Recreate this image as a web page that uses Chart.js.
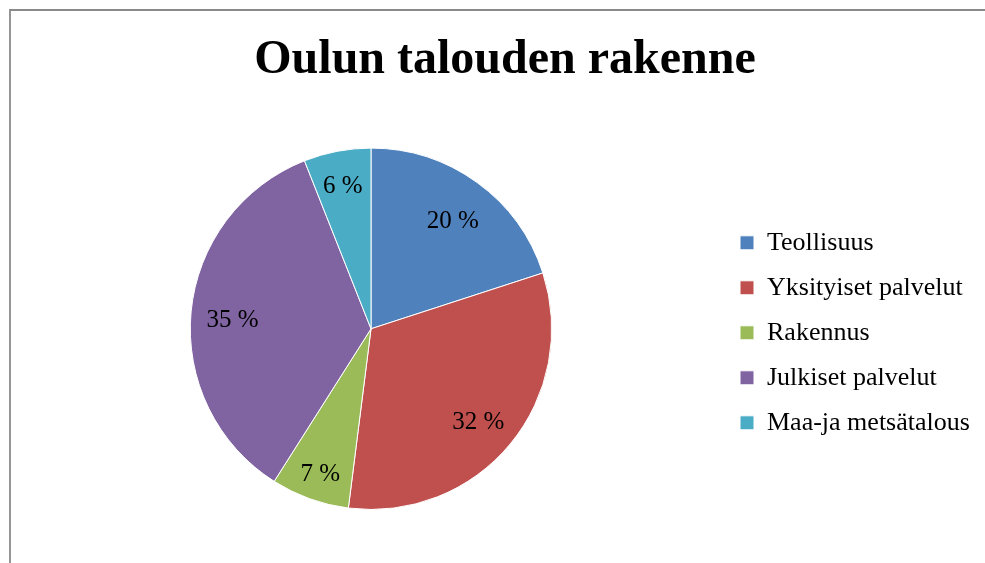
<!DOCTYPE html>
<html>
<head>
<meta charset="utf-8">
<title>Oulun talouden rakenne</title>
<script src="https://cdn.jsdelivr.net/npm/chart.js@4/dist/chart.umd.min.js"></script>
<style>
    html, body { margin: 0; padding: 0; background: #ffffff; overflow: hidden; }
    .page { position: relative; width: 985px; height: 563px; overflow: hidden; }
    .frame { position: absolute; left: 9px; top: 9px; width: 1000px; height: 600px;
             border-top: 2px solid #8a8a8a; border-left: 2px solid #959595; }
    #chart { position: absolute; left: 0; top: 0; }
</style>
</head>
<body>
<div class="page">
    <div class="frame"></div>
    <canvas id="chart" width="1010" height="563"></canvas>
</div>
<script>
var categories = ['Teollisuus', 'Yksityiset palvelut', 'Rakennus', 'Julkiset palvelut', 'Maa-ja metsätalous'];
var shares = [20, 32, 7, 35, 6];
var colors = ['#4F81BD', '#C0504D', '#9BBB59', '#8064A2', '#4BACC6'];
var chartTitle = 'Oulun talouden rakenne';

var serif = "'Liberation Serif', 'Times New Roman', serif";

// legend gets a fixed width and the pie's height, so pie, title and legend sit where Excel put them
var legendPlace = {
    id: 'legendPlace',
    beforeLayout: function (chart) {
        var legend = chart.legend;
        if (!legend || legend._patched) return;
        var fit = legend.fit;
        legend.fit = function () {
            fit.call(this);
            this.width = 268;
        };
        legend._patched = true;
    },
    afterLayout: function (chart) {
        var legend = chart.legend;
        if (!legend) return;
        legend.top = chart.chartArea.top + 4;
        legend.bottom = chart.chartArea.bottom + 4;
    }
};

// "20 %" style labels inside the slices
var sliceLabels = {
    id: 'sliceLabels',
    afterDatasetsDraw: function (chart) {
        var ctx = chart.ctx;
        var meta = chart.getDatasetMeta(0);
        var data = chart.data.datasets[0].data;
        ctx.save();
        ctx.font = '25px ' + serif;
        ctx.fillStyle = '#000000';
        ctx.textAlign = 'center';
        ctx.textBaseline = 'middle';
        meta.data.forEach(function (arc, i) {
            var p = arc.getProps(['x', 'y', 'startAngle', 'endAngle', 'outerRadius'], true);
            var mid = (p.startAngle + p.endAngle) / 2;
            var r = p.outerRadius * (data[i] < 10 ? 0.83 : 0.77);
            ctx.fillText(data[i] + ' %', p.x + Math.cos(mid) * r, p.y + Math.sin(mid) * r + 5);
        });
        ctx.restore();
    }
};

var myChart = new Chart(document.getElementById('chart'), {
    type: 'pie',
    data: {
        labels: categories,
        datasets: [{
            data: shares,
            backgroundColor: colors,
            borderColor: '#ffffff',
            borderWidth: 1
        }]
    },
    options: {
        responsive: false,
        animation: false,
        layout: { padding: { left: 21, right: 21, top: 0, bottom: 53 } },
        plugins: {
            title: {
                display: true,
                text: chartTitle,
                color: '#000000',
                font: { family: serif, size: 48, weight: 'bold' },
                padding: { top: 32, bottom: 58 }
            },
            legend: {
                position: 'right',
                labels: {
                    color: '#000000',
                    font: { family: serif, size: 26 },
                    boxWidth: 14,
                    boxHeight: 14,
                    padding: 19
                }
            },
            tooltip: { enabled: false }
        }
    },
    plugins: [legendPlace, sliceLabels]
});
</script>
</body>
</html>
